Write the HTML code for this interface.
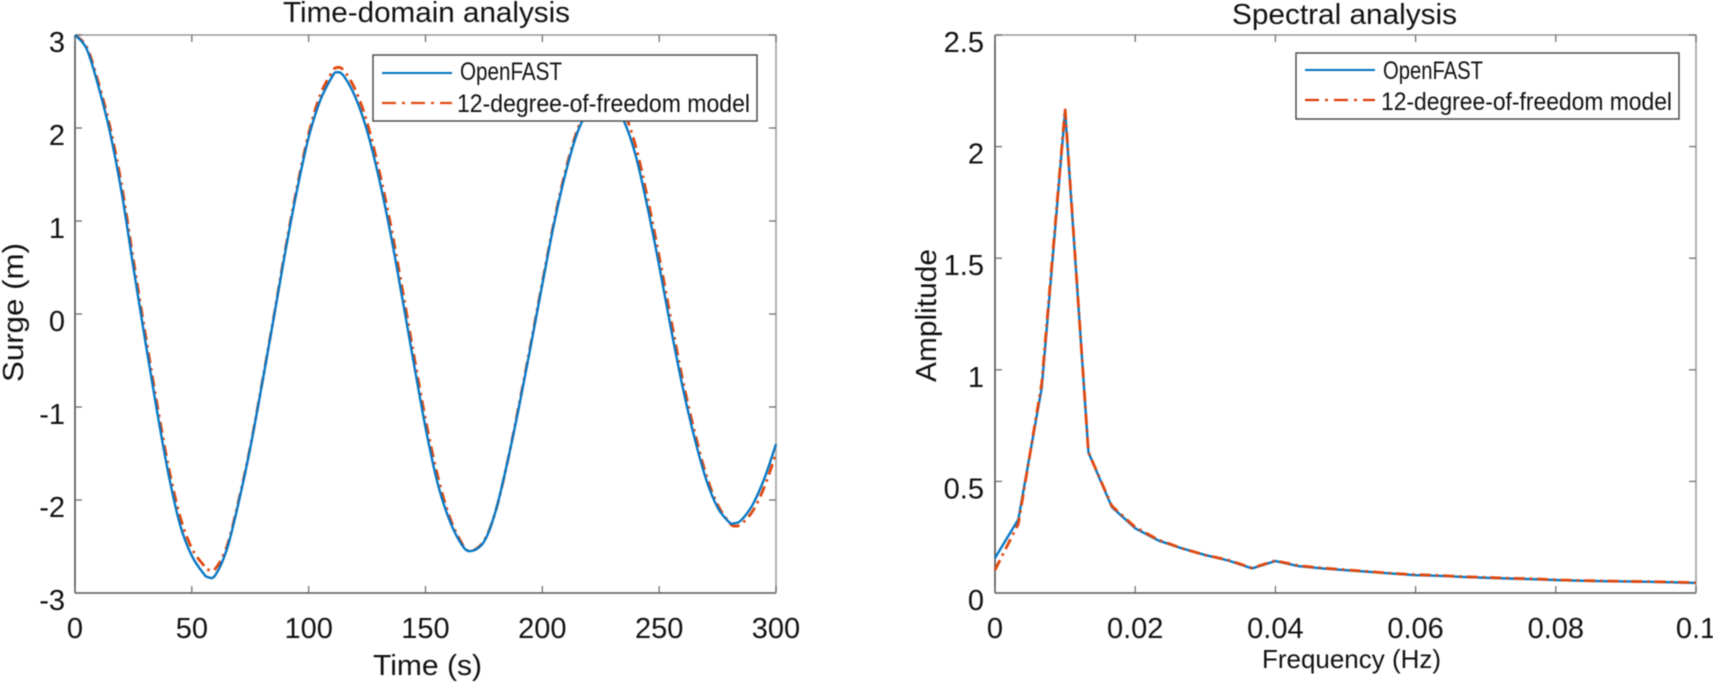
<!DOCTYPE html>
<html lang="en">
<head>
<meta charset="utf-8">
<title>Time-domain and spectral analysis</title>
<style>
html,body{margin:0;padding:0;background:#fff;width:1713px;height:683px;overflow:hidden}
svg{display:block;filter:blur(0.4px)}
text{font-family:"Liberation Sans",sans-serif;fill:#111}
.tick-label{font-size:29px}
.title,.axis-title{font-size:29px}
.legend-text{font-size:25px;fill:#111}
</style>
</head>
<body>
<svg id="figure" xmlns="http://www.w3.org/2000/svg" width="1713" height="683" viewBox="0 0 1713 683">
  <rect x="0" y="0" width="1713" height="683" fill="#fff"/>
  <g id="left-chart">
    <text class="title" x="283" y="22" textLength="287" lengthAdjust="spacingAndGlyphs">Time-domain analysis</text>
    <text class="axis-title" x="373" y="675" textLength="109" lengthAdjust="spacingAndGlyphs">Time (s)</text>
    <text class="axis-title" transform="translate(23,382) rotate(-90)" x="0" y="0" textLength="139" lengthAdjust="spacingAndGlyphs">Surge (m)</text>
  </g>
  <g id="right-chart">
    <text class="title" x="1232" y="24" textLength="225" lengthAdjust="spacingAndGlyphs">Spectral analysis</text>
    <text class="axis-title" style="font-size:26px" x="1262" y="668" textLength="179" lengthAdjust="spacingAndGlyphs">Frequency (Hz)</text>
    <text class="axis-title" transform="translate(936,382) rotate(-90)" x="0" y="0" textLength="133" lengthAdjust="spacingAndGlyphs">Amplitude</text>
  </g>
  <g id="left-legend">
    <rect x="373" y="55" width="384" height="66" fill="#fff" stroke="#444" stroke-width="1.4"/>
    <line x1="382" y1="73" x2="452" y2="73" stroke="#0072bd" stroke-width="2"/>
    <text class="legend-text" x="460" y="80" textLength="102" lengthAdjust="spacingAndGlyphs">OpenFAST</text>
    <line x1="382" y1="103" x2="452" y2="103" stroke="#e0480f" stroke-width="2.2" stroke-dasharray="14 6 3 6"/>
    <text class="legend-text" x="457" y="112" textLength="293" lengthAdjust="spacingAndGlyphs">12-degree-of-freedom model</text>
  </g>
  <g id="right-legend">
    <rect x="1296" y="53" width="383" height="66" fill="#fff" stroke="#444" stroke-width="1.4"/>
    <line x1="1305" y1="70" x2="1375" y2="70" stroke="#0072bd" stroke-width="2"/>
    <text class="legend-text" x="1383" y="79" textLength="100" lengthAdjust="spacingAndGlyphs">OpenFAST</text>
    <line x1="1305" y1="100" x2="1375" y2="100" stroke="#dd3a08" stroke-width="2.2" stroke-dasharray="14 6 3 6"/>
    <text class="legend-text" x="1381" y="110" textLength="291" lengthAdjust="spacingAndGlyphs">12-degree-of-freedom model</text>
  </g>
</svg>
<script>
const timeSeconds = [0,5,10,15,20,25,30,35,40,45,50,55,57,60,65,70,75,80,85,90,95,100,105,110,112,115,120,125,130,135,140,145,150,155,160,165,169,175,180,185,190,195,200,205,210,215,220,225,230,235,240,245,250,255,260,265,270,275,280,282,285,290,295,300];
const surgeOpenFast = [3,2.85,2.45,1.95,1.3,0.5,-0.28,-1.03,-1.72,-2.27,-2.6,-2.79,-2.83,-2.81,-2.53,-2.03,-1.44,-0.76,-0.05,0.67,1.33,1.9,2.3,2.55,2.6,2.56,2.33,1.97,1.47,0.87,0.18,-0.53,-1.22,-1.8,-2.2,-2.46,-2.55,-2.45,-2.12,-1.6,-1.0,-0.35,0.32,0.97,1.52,1.95,2.2,2.3,2.27,2.07,1.7,1.15,0.52,-0.15,-0.78,-1.32,-1.77,-2.08,-2.24,-2.25,-2.22,-2.05,-1.77,-1.4];
const surgeModel = [3,2.87,2.49,2.01,1.38,0.58,-0.2,-0.95,-1.64,-2.18,-2.52,-2.7,-2.75,-2.74,-2.5,-2.01,-1.43,-0.75,-0.04,0.69,1.36,1.94,2.36,2.6,2.65,2.62,2.41,2.06,1.56,0.97,0.28,-0.44,-1.13,-1.72,-2.16,-2.44,-2.55,-2.44,-2.12,-1.6,-0.98,-0.33,0.34,0.99,1.55,1.98,2.25,2.37,2.35,2.17,1.8,1.25,0.62,-0.05,-0.7,-1.25,-1.72,-2.05,-2.24,-2.28,-2.26,-2.12,-1.86,-1.5];
const timeTicks = [0,50,100,150,200,250,300];
const timeTickLabels = ["0","50","100","150","200","250","300"];
const surgeTicks = [-3,-2,-1,0,1,2,3];
const surgeTickLabels = ["-3","-2","-1","0","1","2","3"];

const frequencyHz = [0,0.00333,0.00667,0.01,0.01333,0.01667,0.02,0.02333,0.02667,0.03,0.03333,0.03667,0.04,0.04333,0.04667,0.05,0.05333,0.05667,0.06,0.06333,0.06667,0.07,0.07333,0.07667,0.08,0.08333,0.08667,0.09,0.09333,0.09667,0.1];
const amplitudeOpenFast = [0.157,0.33,0.92,2.16,0.63,0.385,0.29,0.235,0.2,0.17,0.145,0.11,0.143,0.12,0.11,0.102,0.095,0.087,0.08,0.077,0.072,0.068,0.065,0.062,0.058,0.055,0.053,0.052,0.05,0.048,0.045];
const amplitudeModel = [0.103,0.31,0.94,2.17,0.63,0.39,0.295,0.238,0.2,0.17,0.147,0.112,0.145,0.122,0.112,0.104,0.096,0.088,0.082,0.079,0.073,0.07,0.066,0.064,0.059,0.056,0.054,0.052,0.051,0.049,0.046];
const frequencyTicks = [0,0.02,0.04,0.06,0.08,0.1];
const frequencyTickLabels = ["0","0.02","0.04","0.06","0.08","0.1"];
const amplitudeTicks = [0,0.5,1,1.5,2,2.5];
const amplitudeTickLabels = ["0","0.5","1","1.5","2","2.5"];

const NS = "http://www.w3.org/2000/svg";

function make(tag, attrs) {
  const el = document.createElementNS(NS, tag);
  for (const k in attrs) el.setAttribute(k, attrs[k]);
  return el;
}

function smoothPath(xs, ys, sx, sy, smooth) {
  const p = xs.map(function (x, i) { return [sx(x), sy(ys[i])]; });
  let d = "M" + p[0][0].toFixed(2) + " " + p[0][1].toFixed(2);
  for (let i = 0; i < p.length - 1; i++) {
    if (!smooth) {
      d += "L" + p[i + 1][0].toFixed(2) + " " + p[i + 1][1].toFixed(2);
      continue;
    }
    const a = p[Math.max(i - 1, 0)], b = p[i], c = p[i + 1], e = p[Math.min(i + 2, p.length - 1)];
    const c1x = b[0] + (c[0] - a[0]) / 6, c1y = b[1] + (c[1] - a[1]) / 6;
    const c2x = c[0] - (e[0] - b[0]) / 6, c2y = c[1] - (e[1] - b[1]) / 6;
    d += "C" + c1x.toFixed(2) + " " + c1y.toFixed(2) + " " + c2x.toFixed(2) + " " + c2y.toFixed(2) + " " + c[0].toFixed(2) + " " + c[1].toFixed(2);
  }
  return d;
}

function drawChart(cfg) {
  const host = document.getElementById(cfg.hostId);
  const sx = function (v) { return cfg.left + (v - cfg.xMin) / (cfg.xMax - cfg.xMin) * (cfg.right - cfg.left); };
  const sy = function (v) { return cfg.bottom - (v - cfg.yMin) / (cfg.yMax - cfg.yMin) * (cfg.bottom - cfg.top); };

  const topEdge = make("line", {x1: cfg.left, y1: cfg.top, x2: cfg.right, y2: cfg.top, stroke: "#999", "stroke-width": 1.5});
  
  
  host.appendChild(topEdge);

  const rightEdge = make("line", {x1: cfg.right, y1: cfg.top, x2: cfg.right, y2: cfg.bottom, stroke: "#999", "stroke-width": 1.5});
  
  
  host.appendChild(rightEdge);

  const leftEdge = make("line", {x1: cfg.left, y1: cfg.top, x2: cfg.left, y2: cfg.bottom, stroke: "#444", "stroke-width": 1.5});
  
  
  host.appendChild(leftEdge);

  const bottomEdge = make("line", {x1: cfg.left, y1: cfg.bottom, x2: cfg.right, y2: cfg.bottom, stroke: "#555", "stroke-width": 1.5});
  
  
  host.appendChild(bottomEdge);

  cfg.xTicks.forEach(function (v, i) {
    const x = sx(v);
    const t1 = make("line", {x1: x, y1: cfg.bottom, x2: x, y2: cfg.bottom - 7, stroke: "#666", "stroke-width": 1.2});
    
    
    host.appendChild(t1);
    const t2 = make("line", {x1: x, y1: cfg.top, x2: x, y2: cfg.top + 7, stroke: "#666", "stroke-width": 1.2});
    
    
    host.appendChild(t2);
    const lab = make("text", {x: x, y: 638, "text-anchor": "middle", class: "tick-label"});
    lab.textContent = cfg.xLabels[i];
    
    
    host.appendChild(lab);
  });

  cfg.yTicks.forEach(function (v, i) {
    const y = sy(v);
    const t1 = make("line", {x1: cfg.left, y1: y, x2: cfg.left + 7, y2: y, stroke: "#666", "stroke-width": 1.2});
    
    
    host.appendChild(t1);
    const t2 = make("line", {x1: cfg.right, y1: y, x2: cfg.right - 7, y2: y, stroke: "#666", "stroke-width": 1.2});
    
    
    host.appendChild(t2);
    const lab = make("text", {x: cfg.labelRight, y: y + 17, "text-anchor": "end", class: "tick-label"});
    lab.textContent = cfg.yLabels[i];
    
    
    host.appendChild(lab);
  });

  const blue = make("path", {d: smoothPath(cfg.xs, cfg.blue, sx, sy, cfg.smooth), fill: "none", stroke: "#0878c4", "stroke-width": 2.4, "stroke-linejoin": "round"});
  
  
  const red = make("path", {d: smoothPath(cfg.xs, cfg.red, sx, sy, cfg.smooth), fill: "none", stroke: "#e0480f", "stroke-width": 2.8, "stroke-linejoin": "round", "stroke-dasharray": "11 5 2.5 5"});
  
  
  if (cfg.redOnTop) {
    host.appendChild(blue);
    host.appendChild(red);
  } else {
    host.appendChild(red);
    host.appendChild(blue);
  }
}

drawChart({
  hostId: "left-chart",
  left: 75, right: 776, top: 35, bottom: 593, labelRight: 65,
  xMin: 0, xMax: 300, yMin: -3, yMax: 3,
  xTicks: timeTicks, xLabels: timeTickLabels,
  yTicks: surgeTicks, yLabels: surgeTickLabels,
  xs: timeSeconds, blue: surgeOpenFast, red: surgeModel,
  smooth: true, redOnTop: false
});

drawChart({
  hostId: "right-chart",
  left: 995, right: 1696, top: 35, bottom: 593, labelRight: 984,
  xMin: 0, xMax: 0.1, yMin: 0, yMax: 2.5,
  xTicks: frequencyTicks, xLabels: frequencyTickLabels,
  yTicks: amplitudeTicks, yLabels: amplitudeTickLabels,
  xs: frequencyHz, blue: amplitudeOpenFast, red: amplitudeModel,
  smooth: false, redOnTop: true
});

const figure = document.getElementById("figure");
figure.appendChild(document.getElementById("left-legend"));
figure.appendChild(document.getElementById("right-legend"));
</script>
</body>
</html>
